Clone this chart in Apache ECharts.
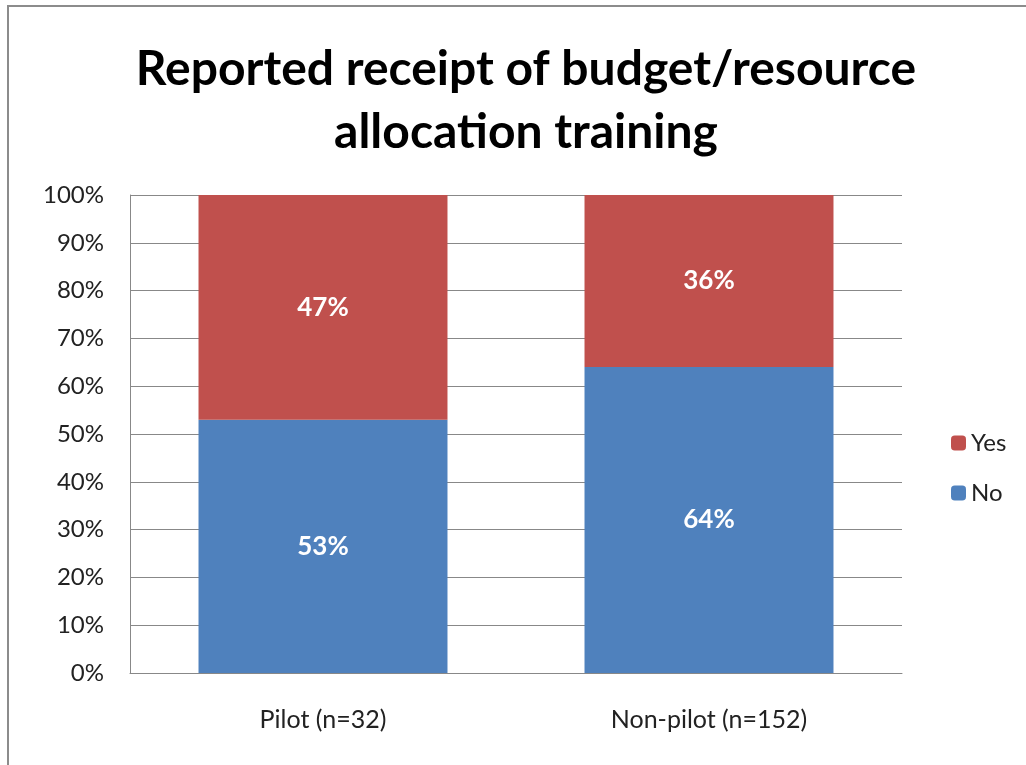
<!DOCTYPE html>
<html>
<head>
<meta charset="utf-8">
<script src="https://cdn.jsdelivr.net/npm/echarts@6/dist/echarts.min.js"></script>
<style>
  html, body { margin: 0; padding: 0; background: #fff; }
  #chart { width: 1026px; height: 765px; }
</style>
</head>
<body>
<div id="chart"></div>
<script>
var categories = ['Pilot (n=32)', 'Non-pilot (n=152)'];
var noValues = [53, 64];
var yesValues = [47, 36];
var yTicks = { min: 0, max: 100, interval: 10 };

var chart = echarts.init(document.getElementById('chart'));
var fontFamily = "Lato, 'Open Sans', sans-serif";

chart.setOption({
    animation: false,
    textStyle: { fontFamily: fontFamily },
    graphic: [{
        type: 'rect',
        shape: { x: 8, y: 6, width: 1040, height: 790 },
        style: { fill: 'none', stroke: '#8c8c8c', lineWidth: 2 }
    }],
    title: {
        text: 'Reported receipt of budget/resource\nallocation training',
        left: 521,
        textAlign: 'center',
        top: 33,
        textStyle: {
            fontFamily: fontFamily,
            fontWeight: 'bold',
            fontSize: 48,
            lineHeight: 63,
            color: '#000'
        }
    },
    legend: {
        orient: 'vertical',
        left: 946,
        top: 426,
        itemGap: 26,
        itemWidth: 15,
        itemHeight: 15,
        data: ['Yes', 'No'],
        textStyle: { fontSize: 24, color: '#222', fontFamily: fontFamily }
    },
    grid: { left: 130, right: 124, top: 195, bottom: 92 },
    xAxis: {
        type: 'category',
        data: categories,
        axisLine: { lineStyle: { color: '#888', width: 1 } },
        axisTick: { show: false },
        axisLabel: { fontSize: 25, color: '#222', margin: 34 }
    },
    yAxis: {
        type: 'value',
        min: yTicks.min,
        max: yTicks.max,
        interval: yTicks.interval,
        axisLine: { show: true, lineStyle: { color: '#888', width: 1 } },
        axisTick: { show: false },
        splitLine: { lineStyle: { color: '#888', width: 1 } },
        axisLabel: { fontSize: 24, color: '#222', margin: 26, formatter: '{value}%' }
    },
    series: [{
        name: 'No',
        type: 'bar',
        stack: 'total',
        barWidth: '64.5%',
        data: noValues,
        itemStyle: { color: '#4F81BD' },
        label: { show: true, position: 'inside', formatter: '{c}%', color: '#fff', fontWeight: 'bold', fontSize: 26 }
    }, {
        name: 'Yes',
        type: 'bar',
        stack: 'total',
        data: yesValues,
        itemStyle: { color: '#C0504D' },
        label: { show: true, position: 'inside', formatter: '{c}%', color: '#fff', fontWeight: 'bold', fontSize: 26 }
    }]
});
</script>
</body>
</html>
